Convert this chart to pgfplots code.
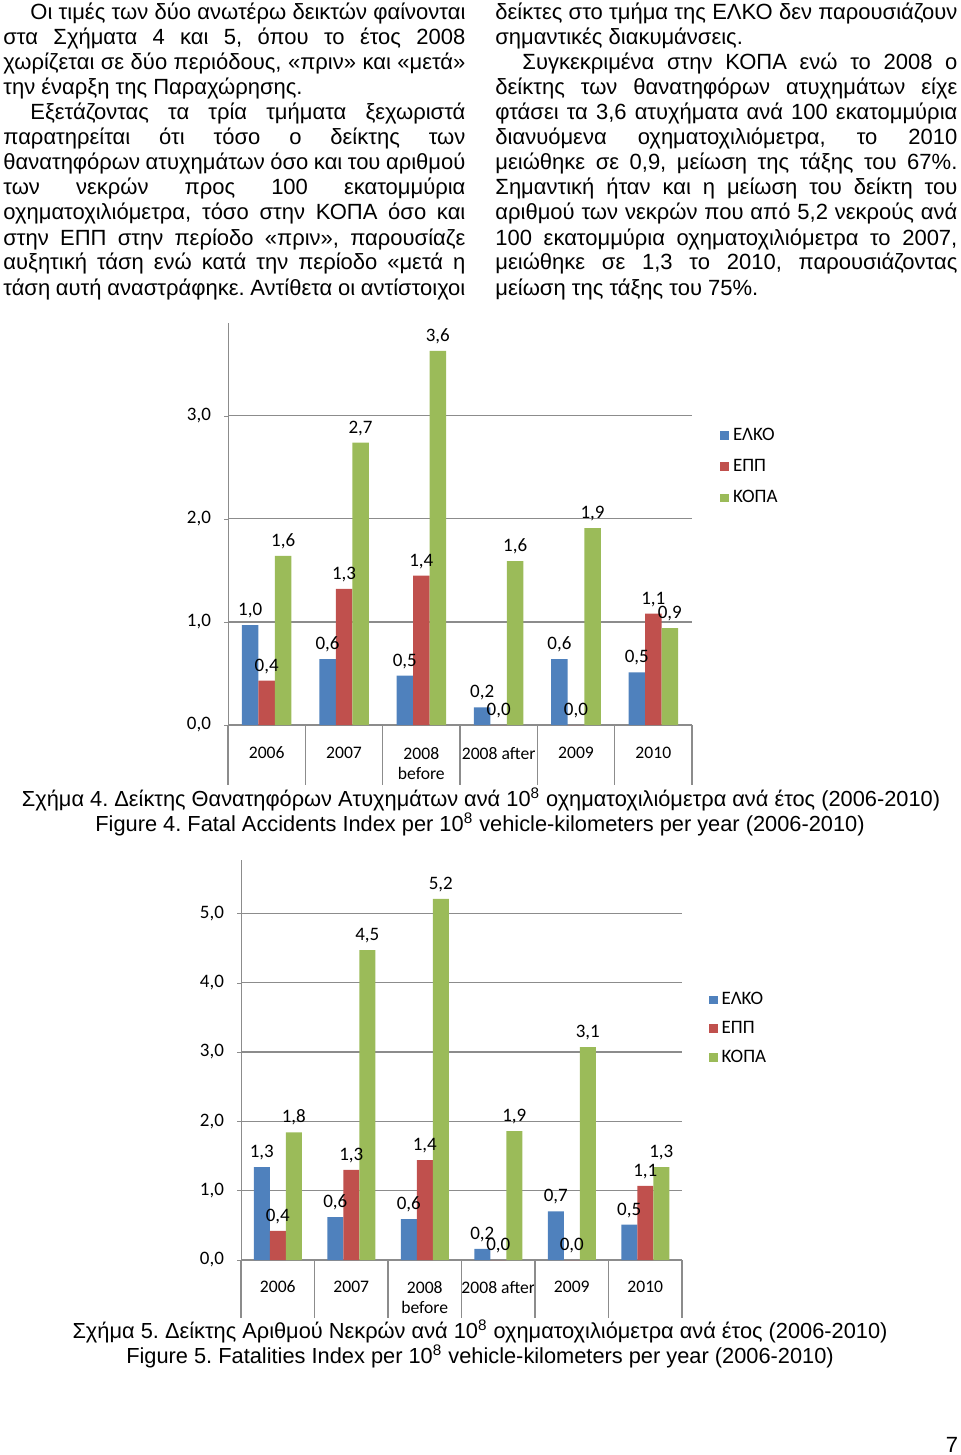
\documentclass[border=0pt]{standalone}
\usepackage{fontspec}
\setmainfont{Liberation Sans}
\newfontfamily\carlito{Carlito}
\usepackage{pgfplots}
\pgfplotsset{compat=1.18}
\frenchspacing
\definecolor{cblue}{HTML}{4F81BD}
\definecolor{cred}{HTML}{C0504D}
\definecolor{cgreen}{HTML}{9BBB59}
\definecolor{gridgray}{HTML}{8C8C8C}
\newcommand{\JL}[1]{\makebox[231pt][s]{#1}}
\newcommand{\JI}[1]{\makebox[217.5pt][s]{#1}}
\newcommand{\capfont}{\fontsize{10.9}{13}\selectfont}
\pgfplotsset{
  excelbar/.style={
    scale only axis,
    xmin=-0.5, xmax=5.5, ymin=0,
    axis x line=bottom, axis y line=left,
    axis line style={draw=gridgray,-},
    ybar=0pt,
    ymajorgrids, grid style={gridgray, line width=0.6pt},
    xtick={0,...,5},
    xticklabels={2006,2007,{2008\\before},2008 after,2009,2010},
    xtick style={draw=none}, ytick style={gridgray},
    major tick length=2pt, tick align=outside,
    tick label style={font=\carlito\fontsize{9.5}{10}\selectfont, text=black},
    xticklabel style={align=center, yshift=-5.5pt, font=\carlito\fontsize{8.8}{10}\selectfont},
    yticklabel style={xshift=-3pt},
    nodes near coords, point meta=explicit symbolic,
    nodes near coords style={font=\carlito\fontsize{9.5}{10}\selectfont, text=black},
    clip=false,
    legend image code/.code={\fill[##1] (0pt,-2.2pt) rectangle (4.4pt,2.2pt);},
    legend cell align=left,
  }
}
\begin{document}
\begin{tikzpicture}
\path[use as bounding box] (0,0) rectangle (480pt,-727.5pt);
\begin{scope}[x=0.5pt,y=-0.5pt, every node/.style={inner sep=0pt, anchor=base west, font=\fontsize{11}{13}\selectfont}]
% left column
\node at (30,20) {\JI{Οι τιμές των δύο ανωτέρω δεικτών φαίνονται}};
\node at (3,45) {\JL{στα Σχήματα 4 και 5, όπου το έτος 2008}};
\node at (3,70) {\JL{χωρίζεται σε δύο περιόδους, «πριν» και «μετά»}};
\node at (3,95) {την έναρξη της Παραχώρησης.};
\node at (30,120) {\JI{Εξετάζοντας τα τρία τμήματα ξεχωριστά}};
\node at (3,145) {\JL{παρατηρείται ότι τόσο ο δείκτης των}};
\node at (3,170) {\JL{θανατηφόρων ατυχημάτων όσο και του αριθμού}};
\node at (3,195) {\JL{των νεκρών προς 100 εκατομμύρια}};
\node at (3,220) {\JL{οχηματοχιλιόμετρα, τόσο στην ΚΟΠΑ όσο και}};
\node at (3,245) {\JL{στην ΕΠΠ στην περίοδο «πριν», παρουσίαζε}};
\node at (3,270) {\JL{αυξητική τάση ενώ κατά την περίοδο «μετά η}};
\node at (3,295) {\JL{τάση αυτή αναστράφηκε. Αντίθετα οι αντίστοιχοι}};
% right column
\node at (495,20) {\JL{δείκτες στο τμήμα της ΕΛΚΟ δεν παρουσιάζουν}};
\node at (495,45) {σημαντικές διακυμάνσεις.};
\node at (522,70) {\JI{Συγκεκριμένα στην ΚΟΠΑ ενώ το 2008 ο}};
\node at (495,95) {\JL{δείκτης των θανατηφόρων ατυχημάτων είχε}};
\node at (495,120) {\JL{φτάσει τα 3,6 ατυχήματα ανά 100 εκατομμύρια}};
\node at (495,145) {\JL{διανυόμενα οχηματοχιλιόμετρα, το 2010}};
\node at (495,170) {\JL{μειώθηκε σε 0,9, μείωση της τάξης του 67\%.}};
\node at (495,195) {\JL{Σημαντική ήταν και η μείωση του δείκτη του}};
\node at (495,220) {\JL{αριθμού των νεκρών που από 5,2 νεκρούς ανά}};
\node at (495,245) {\JL{100 εκατομμύρια οχηματοχιλιόμετρα το 2007,}};
\node at (495,270) {\JL{μειώθηκε σε 1,3 το 2010, παρουσιάζοντας}};
\node at (495,295) {μείωση της τάξης του 75\%.};
% captions
\node[anchor=base, font=\capfont] at (481,806) {Σχήμα 4. Δείκτης Θανατηφόρων Ατυχημάτων ανά 10\textsuperscript{8} οχηματοχιλιόμετρα ανά έτος (2006-2010)};
\node[anchor=base, font=\capfont] at (480,831) {Figure 4. Fatal Accidents Index per 10\textsuperscript{8} vehicle-kilometers per year (2006-2010)};
\node[anchor=base, font=\capfont] at (480,1338) {Σχήμα 5. Δείκτης Αριθμού Νεκρών ανά 10\textsuperscript{8} οχηματοχιλιόμετρα ανά έτος (2006-2010)};
\node[anchor=base, font=\capfont] at (480,1363) {Figure 5. Fatalities Index per 10\textsuperscript{8} vehicle-kilometers per year (2006-2010)};
\node[anchor=base] at (952,1452) {7};
\end{scope}

% Chart 1
\begin{axis}[excelbar,
  at={(114pt,-362.5pt)}, anchor=south west,
  width=232pt, height=201pt, ymax=3.9, bar width=8.25pt,
  ytick={0,1,2,3}, yticklabels={{0,0},{1,0},{2,0},{3,0}},
  legend style={at={(1.06,0.75)}, anchor=north west, draw=none, fill=none,
    font=\carlito\fontsize{9.5}{10}\selectfont, row sep=4pt, inner sep=0pt},
]
\addplot[fill=cblue, draw=none] table[x=x,y=y,meta=lab] {
x y lab
0 0.97 1,0
1 0.64 0,6
2 0.48 0,5
3 0.17 0,2
4 0.64 0,6
5 0.51 0,5
};
\addplot[fill=cred, draw=none] table[x=x,y=y,meta=lab] {
x y lab
0 0.43 0,4
1 1.32 1,3
2 1.45 1,4
3 0 0,0
4 0 0,0
5 1.08 1,1
};
\addplot[fill=cgreen, draw=none] table[x=x,y=y,meta=lab] {
x y lab
0 1.64 1,6
1 2.74 2,7
2 3.63 3,6
3 1.59 1,6
4 1.91 1,9
5 0.94 0,9
};
\legend{ΕΛΚΟ,ΕΠΠ,ΚΟΠΑ}
\pgfplotsinvokeforeach{-0.5,0.5,1.5,2.5,3.5,4.5,5.5}{
  \draw[gridgray, line width=0.6pt] (axis cs:#1,0) -- ++(0pt,-30pt);
}
\end{axis}

% Chart 2
\begin{axis}[excelbar,
  at={(120.5pt,-630pt)}, anchor=south west,
  width=220.5pt, height=200pt, ymax=5.77, bar width=8pt,
  ytick={0,1,2,3,4,5}, yticklabels={{0,0},{1,0},{2,0},{3,0},{4,0},{5,0}},
  xticklabel style={yshift=0.5pt},
  legend style={at={(1.06,0.68)}, anchor=north west, draw=none, fill=none,
    font=\carlito\fontsize{9.5}{10}\selectfont, row sep=2.75pt, inner sep=0pt},
]
\addplot[fill=cblue, draw=none] table[x=x,y=y,meta=lab] {
x y lab
0 1.34 1,3
1 0.62 0,6
2 0.59 0,6
3 0.16 0,2
4 0.70 0,7
5 0.51 0,5
};
\addplot[fill=cred, draw=none] table[x=x,y=y,meta=lab] {
x y lab
0 0.42 0,4
1 1.30 1,3
2 1.44 1,4
3 0 0,0
4 0 0,0
5 1.07 1,1
};
\addplot[fill=cgreen, draw=none] table[x=x,y=y,meta=lab] {
x y lab
0 1.84 1,8
1 4.47 4,5
2 5.21 5,2
3 1.86 1,9
4 3.07 3,1
5 1.34 1,3
};
\legend{ΕΛΚΟ,ΕΠΠ,ΚΟΠΑ}
\pgfplotsinvokeforeach{-0.5,0.5,1.5,2.5,3.5,4.5,5.5}{
  \draw[gridgray, line width=0.6pt] (axis cs:#1,0) -- ++(0pt,-29pt);
}
\end{axis}
\end{tikzpicture}
\end{document}
